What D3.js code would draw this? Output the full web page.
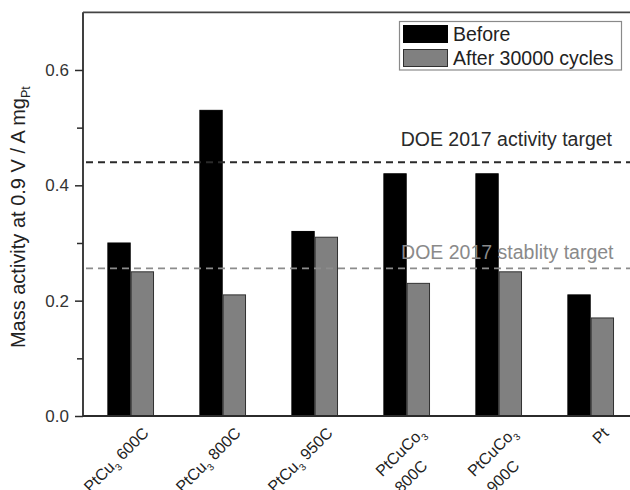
<!DOCTYPE html>
<html>
<head>
<meta charset="utf-8">
<script src="https://cdn.jsdelivr.net/npm/d3@7"></script>
<style>
  html, body { margin: 0; padding: 0; background: #fff; }
  svg { display: block; font-family: "Liberation Sans", Arial, Helvetica, sans-serif; }
</style>
</head>
<body>
<svg id="chart" width="630" height="490"></svg>
<script>
// Catalyst samples; "_x" marks a subscript, "\n" breaks a label line
const categories = ["PtCu_3 600C", "PtCu_3 800C", "PtCu_3 950C", "PtCuCo_3\n800C", "PtCuCo_3\n900C", "Pt"];
const series = ["Before", "After 30000 cycles"];
const before = [0.30, 0.53, 0.32, 0.42, 0.42, 0.21];
const after = [0.25, 0.21, 0.31, 0.23, 0.25, 0.17];
const yTicks = [0.0, 0.2, 0.4, 0.6];
const yMinorTicks = [0.1, 0.3, 0.5];
const activityTarget = 0.44;
const stabilityTarget = 0.256;
const targetLabels = ["DOE 2017 activity target", "DOE 2017 stablity target"];

const svg = d3.select("#chart");
const plotLeft = 83, plotRight = 640, plotTop = 12.3, plotBottom = 416;
const axisColor = "#2b2b2b";
const fills = ["#000000", "#808080"];
const strokes = ["#000000", "#303030"];

const y = d3.scaleLinear().domain([0, 0.7]).range([plotBottom, plotTop]);
const x0 = d3.scaleBand().domain(categories).range([84.7, 636.7])
  .paddingInner(0.493).paddingOuter(0.2465);
const x1 = d3.scaleBand().domain(series).range([0, x0.bandwidth()]);

const rows = categories.map((c, i) => ({ cat: c, values: [before[i], after[i]] }));

// bars
const groups = svg.append("g").selectAll("g").data(rows).join("g")
  .attr("transform", d => `translate(${x0(d.cat)},0)`);
groups.selectAll("rect").data(d => d.values.map((v, k) => ({ v, k })))
  .join("rect")
  .attr("x", d => x1(series[d.k]) + 0.5)
  .attr("y", d => y(d.v))
  .attr("width", x1.bandwidth() - 1)
  .attr("height", d => y(0) - y(d.v))
  .attr("fill", d => fills[d.k])
  .attr("stroke", d => strokes[d.k])
  .attr("stroke-width", 1);

// target lines
const targets = [
  { v: activityTarget, color: "#2a2a2a", text: targetLabels[0], textColor: "#2a2a2a", tx: 612, dy: -16.5 },
  { v: stabilityTarget, color: "#8c8c8c", text: targetLabels[1], textColor: "#8a8a8a", tx: 613.5, dy: -9 }
];
const tg = svg.append("g");
targets.forEach(t => {
  tg.append("line")
    .attr("x1", plotLeft + 3).attr("x2", plotRight)
    .attr("y1", y(t.v)).attr("y2", y(t.v))
    .attr("stroke", t.color).attr("stroke-width", 1.8)
    .attr("stroke-dasharray", "7,5");
  tg.append("text")
    .attr("x", t.tx).attr("y", y(t.v) + t.dy)
    .attr("text-anchor", "end")
    .attr("font-size", 19.5)
    .attr("fill", t.textColor)
    .text(t.text);
});

// y axis
const yAxis = d3.axisLeft(y).tickValues(yTicks).tickFormat(d3.format(".1f"))
  .tickSize(8).tickPadding(6);
const gy = svg.append("g").attr("transform", `translate(${plotLeft},0)`).call(yAxis);
gy.select(".domain").remove();
gy.selectAll(".tick line").attr("stroke", axisColor).attr("stroke-width", 1.5);
gy.selectAll(".tick text").attr("font-size", 17).attr("fill", "#333")
  .attr("font-family", "Liberation Sans, Arial, sans-serif");
const gyMinor = svg.append("g").attr("transform", `translate(${plotLeft},0)`)
  .call(d3.axisLeft(y).tickValues(yMinorTicks).tickSize(6).tickFormat(""));
gyMinor.select(".domain").remove();
gyMinor.selectAll(".tick line").attr("stroke", axisColor).attr("stroke-width", 1.5);

// frame lines: left, bottom, top
svg.append("line").attr("x1", plotLeft).attr("x2", plotLeft).attr("y1", plotTop).attr("y2", plotBottom)
  .attr("stroke", axisColor).attr("stroke-width", 1.8);
svg.append("line").attr("x1", plotLeft).attr("x2", plotRight).attr("y1", plotBottom).attr("y2", plotBottom)
  .attr("stroke", axisColor).attr("stroke-width", 1.8);
svg.append("line").attr("x1", plotLeft).attr("x2", plotRight).attr("y1", plotTop).attr("y2", plotTop)
  .attr("stroke", "#444").attr("stroke-width", 1.8);

// rich text helper: "_x" becomes a subscript
function addRich(textSel, str, size) {
  const parts = str.split(/(_\w)/).filter(s => s.length);
  parts.forEach(p => {
    if (p.startsWith("_")) {
      textSel.append("tspan").attr("font-size", size * 0.62).attr("dy", size * 0.3).text(p.slice(1));
      textSel.append("tspan").attr("dy", -size * 0.3).text("\u200b");
    } else {
      textSel.append("tspan").text(p);
    }
  });
}

// x tick labels, rotated
const xl = svg.append("g");
const labelSize = 16;
categories.forEach(c => {
  const cx = x0(c) + x0.bandwidth() / 2;
  const g = xl.append("g").attr("transform", `translate(${cx + 19},${434}) rotate(-45)`);
  const lines = c.split("\n");
  const first = g.append("text").attr("text-anchor", "end")
    .attr("font-size", labelSize).attr("fill", "#222");
  addRich(first, lines[0], labelSize);
  if (lines.length > 1) {
    const w = first.node().getComputedTextLength();
    const second = g.append("text").attr("x", -w + 2).attr("y", 25)
      .attr("font-size", labelSize).attr("fill", "#222");
    addRich(second, lines[1], labelSize);
  }
});

// y axis title
const yt = svg.append("text")
  .attr("transform", `translate(25,${(plotTop + plotBottom) / 2 + 3}) rotate(-90)`)
  .attr("text-anchor", "middle").attr("font-size", 20).attr("fill", "#222");
yt.append("tspan").text("Mass activity at 0.9 V / A mg");
yt.append("tspan").attr("font-size", 12.5).attr("dy", 5).text("Pt");

// legend
const lg = svg.append("g");
lg.append("rect").attr("x", 399.5).attr("y", 21.5).attr("width", 222).attr("height", 48.5)
  .attr("fill", "#fff").attr("stroke", "#8a8a8a").attr("stroke-width", 1.2);
series.forEach((s, k) => {
  lg.append("rect").attr("x", 403.5).attr("y", 25.5 + k * 24).attr("width", 44).attr("height", 17)
    .attr("fill", fills[k]).attr("stroke", strokes[k]).attr("stroke-width", 1);
  lg.append("text").attr("x", 453).attr("y", 41 + k * 24)
    .attr("font-size", 19.5).attr("fill", "#222").text(s);
});
</script>
</body>
</html>
